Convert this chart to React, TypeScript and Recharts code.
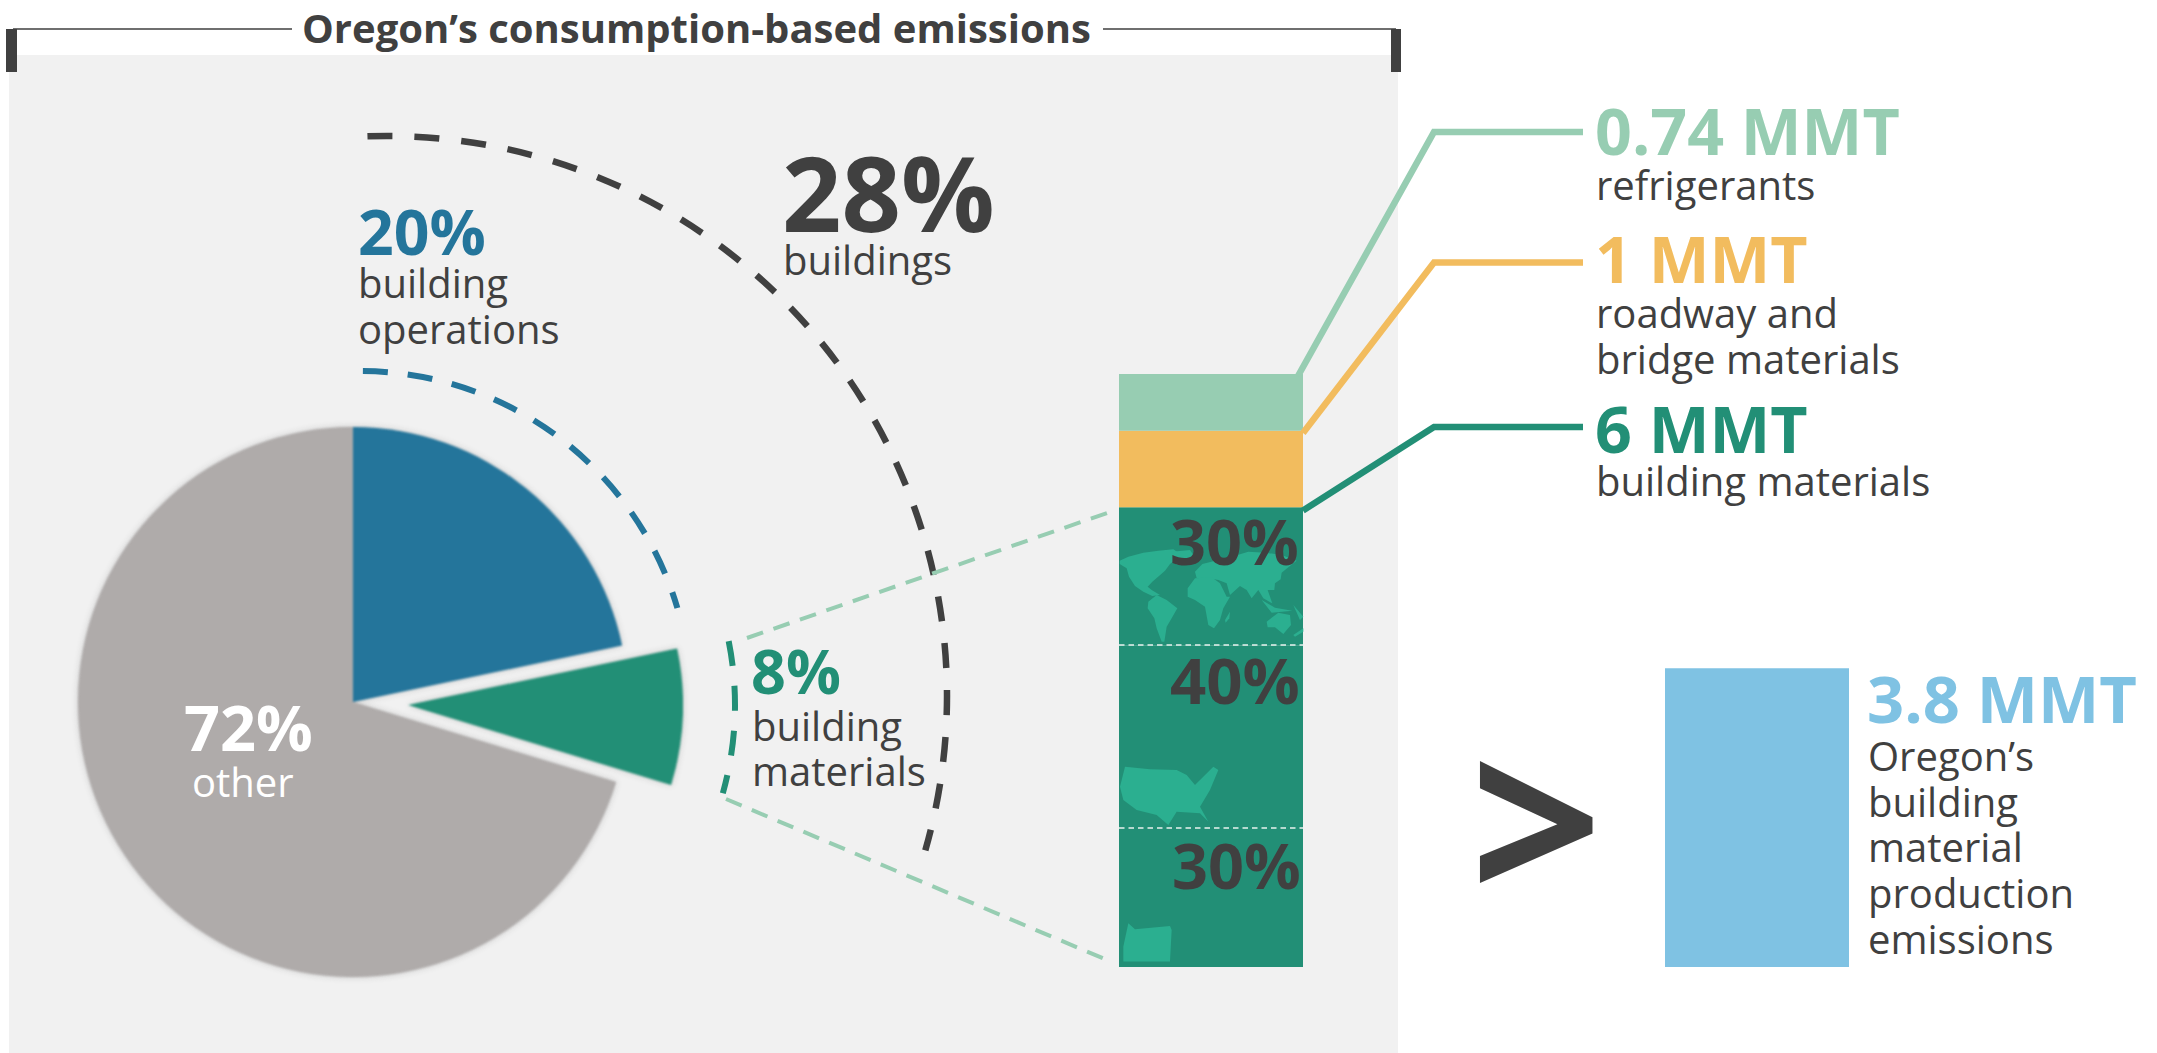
import { BarChart, Bar, XAxis, YAxis, PieChart, Pie, Cell } from 'recharts'

// pie, slice sizes as drawn (the printed labels are rounded differently)
const sliceNames = ['building operations', 'building materials', 'other']
const sliceShares = [21.7, 8, 70.3]
const sliceColors = ['#24759B', '#228F76', '#AFABAA']

// stacked column, MMT
const barCategories = ['consumption', 'production']
const oregonMaterials = [1.8, 0]
const usMaterials = [2.4, 0]
const worldMaterials = [1.8, 0]
const roadwayMaterials = [1, 0]
const refrigerants = [0.74, 0]
const oregonProduction = [0, 3.9]

const barData = barCategories.map((category, i) => ({
  category,
  oregon: oregonMaterials[i],
  us: usMaterials[i],
  world: worldMaterials[i],
  roadway: roadwayMaterials[i],
  refrigerants: refrigerants[i],
  production: oregonProduction[i],
}))
const pieData = sliceNames.map((name, i) => ({ name, value: sliceShares[i] }))

const DARK = '#404040'
const BLUE = '#24759B'
const GREEN = '#228F76'
const MINT = '#97CDB2'
const ORANGE = '#F2BC5E'
const SKY = '#7FC2E3'
const MAP = '#2BAF90'

const FONT = '"Open Sans", sans-serif'

function arc(cx: number, cy: number, r: number, from: number, to: number) {
  const pt = (a: number) => {
    const t = (a * Math.PI) / 180
    return `${cx + r * Math.sin(t)} ${cy - r * Math.cos(t)}`
  }
  return `M ${pt(from)} A ${r} ${r} 0 ${to - from > 180 ? 1 : 0} 1 ${pt(to)}`
}

function T({ x, y, size, color = DARK, bold, children }: any) {
  return (
    <text x={x} y={y} fontSize={size} fill={color} fontWeight={bold ? 700 : 400} fontFamily={FONT}>
      {children}
    </text>
  )
}

function Maps() {
  return (
    <g fill={MAP}>
      <g transform="translate(1115,540) scale(0.3333)">
        <polygon points="14,62 40,50 85,38 130,32 175,28 200,45 180,60 165,72 150,92 132,108 112,125 98,140 110,150 135,165 112,168 85,155 60,138 42,110 35,85 14,72" />
        <polygon points="100,185 125,165 155,180 187,205 170,235 155,260 148,305 140,305 125,265 118,235 98,205" />
        <polygon points="170,35 225,30 235,45 205,70 185,75" />
        <polygon points="240,95 262,72 310,60 350,50 400,35 450,38 500,45 545,62 520,82 500,98 497,118 480,130 478,150 458,150 472,190 445,175 430,150 410,175 395,150 375,138 345,165 335,130 310,120 280,115 245,115" />
        <polygon points="218,145 240,115 290,112 315,130 335,170 345,170 325,205 315,240 297,265 280,255 270,200 240,180 218,170" />
        <polygon points="330,240 345,215 343,235 332,248" />
        <polygon points="455,245 490,218 525,225 528,255 505,282 480,262 458,262" />
        <polygon points="440,180 480,203 532,212 470,218" />
        <polygon points="535,195 565,230 555,240" />
        <polygon points="535,285 565,265 565,275 540,290" />
      </g>
      <g transform="translate(1100,480) scale(0.3333)">
        <polygon points="75,860 150,868 230,870 260,885 285,915 340,860 355,870 330,930 300,980 325,1025 300,1000 230,995 205,1035 170,1005 110,990 70,960 60,920" />
        <polygon points="85,1330 105,1348 210,1338 215,1350 210,1445 70,1445 70,1400" />
      </g>
    </g>
  )
}

export default function App() {
  return (
    <div style={{ position: 'absolute', left: 0, top: 0, width: 2157, height: 1053, background: '#fff', overflow: 'hidden' }}>
      <div style={{ position: 'absolute', left: 9, top: 55, width: 1389, height: 998, background: '#F1F1F1' }} />

      <div style={{ position: 'absolute', left: 0, top: 0, filter: 'blur(0.8px) drop-shadow(0 0 3px rgba(150,150,150,0.45))' }}>
        <PieChart width={1000} height={1053} margin={{ top: 0, right: 0, bottom: 0, left: 0 }}>
          <Pie data={pieData} dataKey="value" cx={353} cy={702} outerRadius={275} startAngle={90} endAngle={-270} stroke="none" isAnimationActive={false}>
            {pieData.map((d, i) => (
              <Cell key={d.name} fill={i === 1 ? 'none' : sliceColors[i]} />
            ))}
          </Pie>
          {/* exploded slice */}
          <Pie data={pieData} dataKey="value" cx={408} cy={705} outerRadius={275} startAngle={90} endAngle={-270} stroke="none" isAnimationActive={false}>
            {pieData.map((d, i) => (
              <Cell key={d.name} fill={i === 1 ? sliceColors[i] : 'none'} />
            ))}
          </Pie>
        </PieChart>
      </div>

      <div style={{ position: 'absolute', left: 938, top: 354 }}>
        <BarChart width={1092} height={613} data={barData} margin={{ top: 0, right: 0, bottom: 0, left: 0 }} barSize={184}>
          <XAxis dataKey="category" hide />
          <YAxis domain={[0, 8]} hide />
          <Bar dataKey="oregon" stackId="a" fill={GREEN} isAnimationActive={false} />
          <Bar dataKey="us" stackId="a" fill={GREEN} isAnimationActive={false} />
          <Bar dataKey="world" stackId="a" fill={GREEN} isAnimationActive={false} />
          <Bar dataKey="roadway" stackId="a" fill={ORANGE} isAnimationActive={false} />
          <Bar dataKey="refrigerants" stackId="a" fill={MINT} isAnimationActive={false} />
          <Bar dataKey="production" stackId="a" fill={SKY} isAnimationActive={false} />
        </BarChart>
      </div>

      <svg width={2157} height={1053} style={{ position: 'absolute', left: 0, top: 0 }}>
        {/* title bracket */}
        <path d="M 13 29 H 292 M 1103 29 H 1396" stroke={DARK} strokeWidth={1.5} fill="none" />
        <rect x={6} y={29} width={11} height={43} fill={DARK} />
        <rect x={1391} y={29} width={10} height={43} fill={DARK} />
        <T x={302} y={43} size={40} bold>Oregon’s consumption-based emissions</T>

        {/* dashed arcs */}
        <path d={arc(387, 696, 560, -2, 106)} fill="none" stroke={DARK} strokeWidth={6.5} strokeDasharray="25 22" />
        <path d={arc(360, 702, 331, 0.5, 73.5)} fill="none" stroke={BLUE} strokeWidth={6} strokeDasharray="25 20" />
        <path d={arc(409, 705, 326, 78.7, 105.7)} fill="none" stroke={GREEN} strokeWidth={6} strokeDasharray="25 20" />

        {/* zoom lines to the column */}
        <path d="M 747 638 L 1107 513" stroke={MINT} strokeWidth={4} strokeDasharray="17 11" fill="none" />
        <path d="M 726 799 L 1107 960" stroke={MINT} strokeWidth={4} strokeDasharray="17 11" fill="none" />

        <Maps />
        <path d="M 1119 645 H 1303 M 1119 828 H 1303" stroke="#E8F2EE" strokeWidth={1.5} strokeDasharray="5.5 4" />

        {/* leaders */}
        <path d="M 1298 376 L 1434 132 H 1583" stroke={MINT} strokeWidth={6.5} fill="none" />
        <path d="M 1303 433 L 1434 262.5 H 1583" stroke={ORANGE} strokeWidth={6.5} fill="none" />
        <path d="M 1303 510.5 L 1434 427 H 1583" stroke={GREEN} strokeWidth={6.5} fill="none" />

        <T x={782} y={232} size={104} bold>28%</T>
        <T x={783} y={275} size={40}>buildings</T>
        <T x={358} y={255} size={62.5} color={BLUE} bold>20%</T>
        <T x={358} y={298} size={40}>building</T>
        <T x={358} y={344} size={40}>operations</T>
        <T x={751} y={694} size={61} color={GREEN} bold>8%</T>
        <T x={752} y={741} size={40}>building</T>
        <T x={752} y={786} size={40}>materials</T>
        <T x={184} y={751} size={63} color="#fff" bold>72%</T>
        <T x={192} y={797} size={40} color="#fff">other</T>

        <T x={1170} y={565} size={63} bold>30%</T>
        <T x={1170} y={704} size={63.5} bold>40%</T>
        <T x={1172} y={889} size={63} bold>30%</T>

        <T x={1595} y={155} size={64.5} color={MINT} bold>0.74 MMT</T>
        <T x={1596} y={200} size={40}>refrigerants</T>
        <T x={1595} y={283} size={64.5} color={ORANGE} bold>1 MMT</T>
        <T x={1596} y={328} size={40}>roadway and</T>
        <T x={1596} y={374} size={40}>bridge materials</T>
        <T x={1595} y={453} size={64.5} color={GREEN} bold>6 MMT</T>
        <T x={1596} y={496} size={40}>building materials</T>

        <T x={1470} y={906} size={232} bold>&gt;</T>

        <T x={1867} y={723} size={65} color={SKY} bold>3.8 MMT</T>
        <T x={1868} y={771} size={40}>Oregon’s</T>
        <T x={1868} y={817} size={40}>building</T>
        <T x={1868} y={862} size={40}>material</T>
        <T x={1868} y={908} size={40}>production</T>
        <T x={1868} y={954} size={40}>emissions</T>
      </svg>
    </div>
  )
}
